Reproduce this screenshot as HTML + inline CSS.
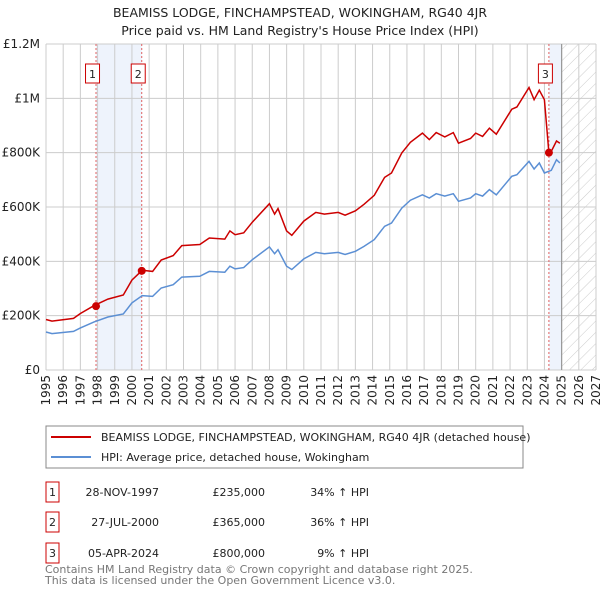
<!DOCTYPE html>
<html><head><meta charset="utf-8"><style>
body{margin:0;background:#fff;font-family:"Liberation Sans","DejaVu Sans",sans-serif;}
#wrap{position:relative;width:600px;height:590px;overflow:hidden}
svg text{font-family:"DejaVu Sans","Liberation Sans",sans-serif}
</style></head><body><div id="wrap">
<svg id="c" width="600" height="590"></svg>
</div>
<script>
const hpiYears=[1995.0,1995.35,1996.6,1997.0,1997.8,1998.6,1999.5,2000.0,2000.6,2001.2,2001.7,2002.4,2002.9,2003.95,2004.5,2005.4,2005.7,2006.0,2006.5,2007.0,2008.0,2008.3,2008.5,2009.0,2009.3,2010.0,2010.7,2011.2,2012.0,2012.4,2013.0,2013.5,2014.1,2014.7,2015.1,2015.7,2016.2,2016.9,2017.3,2017.7,2018.2,2018.7,2019.0,2019.7,2020.0,2020.4,2020.8,2021.2,2022.1,2022.4,2023.1,2023.4,2023.7,2024.0,2024.4,2024.7,2024.9];
const hpiValues=[140,134,142,155,177,195,206,247,274,271,302,314,342,345,363,360,382,372,377,406,453,428,443,382,370,409,433,428,433,425,437,455,480,529,541,596,625,645,633,649,640,649,621,633,649,640,664,645,713,719,768,740,762,725,735,774,762];
const priceYears=[1995.0,1995.35,1996.6,1997.0,1997.8,1998.6,1999.5,2000.0,2000.6,2001.2,2001.7,2002.4,2002.9,2003.95,2004.5,2005.4,2005.7,2006.0,2006.5,2007.0,2008.0,2008.3,2008.5,2009.0,2009.3,2010.0,2010.7,2011.2,2012.0,2012.4,2013.0,2013.5,2014.1,2014.7,2015.1,2015.7,2016.2,2016.9,2017.3,2017.7,2018.2,2018.7,2019.0,2019.7,2020.0,2020.4,2020.8,2021.2,2022.1,2022.4,2023.1,2023.4,2023.7,2024.0,2024.26,2024.4,2024.7,2024.9];
const priceValues=[186,180,190,208,237,261,276,331,367,363,405,421,458,462,486,482,512,498,505,544,612,574,594,512,496,548,580,574,580,570,586,610,643,709,725,799,838,872,848,874,858,874,835,852,872,860,890,868,960,968,1040,995,1030,995,800,805,843,835];
const saleYears=[1997.91,2000.57,2024.26];
const saleValues=[235,365,800];
const saleLabels=["1","2","3"];
const yTicks=[0,200,400,600,800,1000,1200];
const yTickLabels=["£0","£200K","£400K","£600K","£800K","£1M","£1.2M"];
const xTicks=[1995,1996,1997,1998,1999,2000,2001,2002,2003,2004,2005,2006,2007,2008,2009,2010,2011,2012,2013,2014,2015,2016,2017,2018,2019,2020,2021,2022,2023,2024,2025,2026,2027];

const L=46,R=596,T=44,B=370;
const x=v=>L+(v-1995)/(2027-1995)*(R-L);
const y=v=>B-v/1200*(B-T);
const svg=document.getElementById('c');const NS='http://www.w3.org/2000/svg';
function mk(tag,attrs,parent){const e=document.createElementNS(NS,tag);for(const k in attrs)e.setAttribute(k,attrs[k]);(parent||svg).appendChild(e);return e;}
function txt(s,attrs){const e=mk('text',attrs);e.textContent=s;return e;}

const defs=mk('defs',{});
const pat=mk('pattern',{id:'hatch',width:8,height:8,patternUnits:'userSpaceOnUse',patternTransform:'rotate(45)'},defs);
mk('line',{x1:0,y1:0,x2:0,y2:8,stroke:'#ccc','stroke-width':1},pat);

let t=txt('BEAMISS LODGE, FINCHAMPSTEAD, WOKINGHAM, RG40 4JR',{x:300,y:17,'text-anchor':'middle','font-size':12.5,fill:'#222'});

t=txt("Price paid vs. HM Land Registry's House Price Index (HPI)",{x:300,y:35,'text-anchor':'middle','font-size':12.5,fill:'#222'});


let r=mk('rect',{x:x(saleYears[0]),y:T,width:x(saleYears[1])-x(saleYears[0]),height:B-T,fill:'#eef3fc'});

r=mk('rect',{x:x(saleYears[2]),y:T,width:x(2025)-x(saleYears[2]),height:B-T,fill:'#eef3fc'});

r=mk('rect',{x:x(2025),y:T,width:R-x(2025),height:B-T,fill:'url(#hatch)'});


xTicks.forEach(v=>{const l=mk('line',{x1:x(v),x2:x(v),y1:T,y2:B,stroke:'#ccc','stroke-width':1});

const tx=txt(String(v),{x:0,y:0,transform:`translate(${x(v)+4},375) rotate(-90)`,'text-anchor':'end','font-size':12,fill:'#222'});
});
yTicks.forEach((v,i)=>{const l=mk('line',{x1:L,x2:R,y1:y(v),y2:y(v),stroke:'#ccc','stroke-width':1});

const tx=txt(yTickLabels[i],{x:L-6,y:y(v)+4,'text-anchor':'end','font-size':12,fill:'#222'});
});
let vl=mk('line',{x1:x(2025),x2:x(2025),y1:T,y2:B,stroke:'#999','stroke-width':1.2});


saleYears.forEach((v,i)=>{const l=mk('line',{x1:x(v),x2:x(v),y1:T,y2:B,stroke:'#e06060','stroke-width':1,'stroke-dasharray':'2,2'});

const g=mk('g',{});
mk('rect',{x:x(v)-10.5,y:64,width:14,height:19,fill:'#fff',stroke:'#cc0000','stroke-width':1},g);
const tt=mk('text',{x:x(v)-3.5,y:78,'text-anchor':'middle','font-size':11,fill:'#222'},g);tt.textContent=saleLabels[i];});

const hp=mk('path',{d:hpiYears.map((v,i)=>(i?'L':'M')+x(v).toFixed(1)+','+y(hpiValues[i]).toFixed(1)).join(''),fill:'none',stroke:'#5b8fd4','stroke-width':1.5});

const pp=mk('path',{d:priceYears.map((v,i)=>(i?'L':'M')+x(v).toFixed(1)+','+y(priceValues[i]).toFixed(1)).join(''),fill:'none',stroke:'#cc0000','stroke-width':1.5});

saleYears.forEach((v,i)=>{const c=mk('circle',{cx:x(v),cy:y(saleValues[i]),r:4,fill:'#cc0000'});
});

// legend
const lg=mk('g',{});
mk('rect',{x:46,y:426,width:477,height:42,fill:'#fff',stroke:'#888','stroke-width':1},lg);
mk('line',{x1:51,x2:91,y1:437,y2:437,stroke:'#cc0000','stroke-width':2},lg);
mk('line',{x1:51,x2:91,y1:457,y2:457,stroke:'#5b8fd4','stroke-width':2},lg);
let a=mk('text',{x:101,y:441,'font-size':11,fill:'#222'},lg);a.textContent='BEAMISS LODGE, FINCHAMPSTEAD, WOKINGHAM, RG40 4JR (detached house)';
a=mk('text',{x:101,y:461,'font-size':11,fill:'#222'},lg);a.textContent='HPI: Average price, detached house, Wokingham';

const rowsDate=['28-NOV-1997','27-JUL-2000','05-APR-2024'];
const rowsPrice=['£235,000','£365,000','£800,000'];
const rowsHpi=['34% ↑ HPI','36% ↑ HPI','9% ↑ HPI'];
[484,514,545].forEach((yy,i)=>{const g=mk('g',{});
mk('rect',{x:46,y:yy-2,width:13,height:20,fill:'#fff',stroke:'#cc0000','stroke-width':1},g);
let e=mk('text',{x:52.5,y:yy+12,'text-anchor':'middle','font-size':11,fill:'#222'},g);e.textContent=saleLabels[i];
e=mk('text',{x:159,y:yy+12,'text-anchor':'end','font-size':11,fill:'#222'},g);e.textContent=rowsDate[i];
e=mk('text',{x:265,y:yy+12,'text-anchor':'end','font-size':11,fill:'#222'},g);e.textContent=rowsPrice[i];
e=mk('text',{x:369,y:yy+12,'text-anchor':'end','font-size':11,fill:'#222'},g);e.textContent=rowsHpi[i];});
t=txt('Contains HM Land Registry data © Crown copyright and database right 2025.',{x:45,y:573,'font-size':11,fill:'#777'});

t=txt('This data is licensed under the Open Government Licence v3.0.',{x:45,y:584,'font-size':11,fill:'#777'});

</script></body></html>
